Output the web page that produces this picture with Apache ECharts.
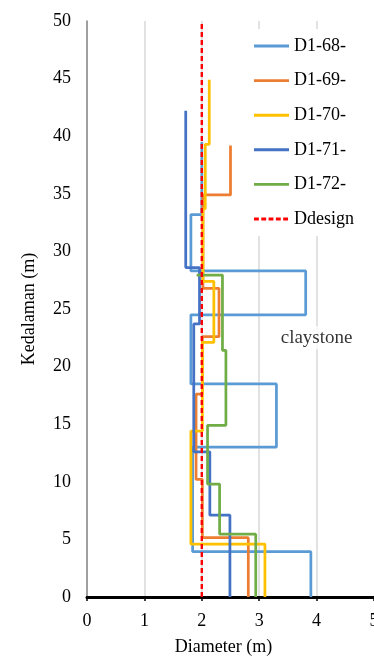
<!DOCTYPE html>
<html>
<head>
<meta charset="utf-8">
<script src="https://cdn.jsdelivr.net/npm/echarts@6/dist/echarts.min.js"></script>
<style>html,body{margin:0;padding:0;background:#fff}#c{width:374px;height:657px}</style>
</head>
<body>
<div id="c"></div>
<script>
// Pile names
const names = ['D1-68-', 'D1-69-', 'D1-70-', 'D1-71-', 'D1-72-'];
// Top depth of each profile (m)
const topDepth = [39.5, 39.2, 44.9, 42.2, 27.95];
// Diameter of each layer, from top down (m)
const diam68 = [2.00, 1.81, 3.81, 1.81, 3.30, 1.84, 3.90];
const diam69 = [2.50, 2.02, 2.30, 2.01, 1.90, 2.01, 2.81];
const diam70 = [2.13, 2.06, 2.02, 2.21, 2.01, 1.81, 3.10];
const diam71 = [1.72, 1.96, 1.86, 2.14, 2.49];
const diam72 = [1.91, 2.36, 2.42, 2.10, 2.31, 2.94];
// Bottom depth of each layer (m)
const bot68 = [33.2, 28.3, 24.5, 18.5, 13.0, 3.93, 0];
const bot69 = [34.9, 26.8, 22.6, 17.6, 10.2, 5.15, 0];
const bot70 = [39.3, 33.7, 27.4, 22.1, 14.4, 4.6, 0];
const bot71 = [28.6, 23.7, 12.6, 7.1, 0];
const bot72 = [27.95, 21.4, 14.9, 9.8, 5.45, 0];
// Design diameter line
const dDesign = 2.0;
const designDepths = [0, 50];
// Annotation
const noteText = 'claystone';
const notePos = [4.0, 22.5];

const colors = ['#5B9BD5', '#ED7D31', '#FFC000', '#4472C4', '#70AD47'];
const diams = [diam68, diam69, diam70, diam71, diam72];
const bots = [bot68, bot69, bot70, bot71, bot72];

function stepPath(top, d, b) {
  const pts = [];
  let t = top;
  for (let i = 0; i < d.length; i++) {
    pts.push([d[i], t]);
    pts.push([d[i], b[i]]);
    t = b[i];
  }
  return pts;
}

const font = 'Liberation Serif, Times New Roman, serif';
const solidIcon = 'path://M0,0H36V3H0Z';
const dashIcon = 'path://M0,0H5V3H0Z M7.5,0H12.5V3H7.5Z M15,0H20V3H15Z M22.5,0H27.5V3H22.5Z M30,0H35V3H30Z M36,0H36V3H36Z';

const series = names.map((n, i) => ({
  name: n, type: 'line', data: stepPath(topDepth[i], diams[i], bots[i]),
  showSymbol: false, symbol: 'none', animation: false,
  lineStyle: { color: colors[i], width: 2.75 }, itemStyle: { color: colors[i] }
}));
series.push({
  name: 'Ddesign', type: 'line', data: designDepths.map(v => [dDesign, v]),
  showSymbol: false, symbol: 'none', animation: false,
  lineStyle: { color: '#FF0000', width: 2.4, type: [5, 3] }, itemStyle: { color: '#FF0000' }
});
series.push({
  type: 'scatter', data: [notePos], symbolSize: 0, silent: true, animation: false,
  label: { show: true, formatter: noteText, position: 'inside', offset: [0, 0], fontFamily: font, fontSize: 19,
    color: '#000', backgroundColor: '#fff', padding: [2, 2] }
});

const chart = echarts.init(document.getElementById('c'));
chart.setOption({
  animation: false,
  grid: { left: 87, right: 0, top: 21, bottom: 60, containLabel: false, outerBoundsMode: 'none' },
  legend: {
    data: names.map(n => ({ name: n, icon: solidIcon })).concat([{ name: 'Ddesign', icon: dashIcon }]),
    orient: 'vertical', left: 250, top: 29,
    backgroundColor: '#fff', padding: [7, 10, 7, 4], itemWidth: 35, itemHeight: 3, itemGap: 14.6,
    textStyle: { fontFamily: font, fontSize: 18, color: '#000', lineHeight: 20 }
  },
  xAxis: [{
    type: 'value', min: 0, max: 5, interval: 1,
    name: 'Diameter (m)', nameLocation: 'middle', nameGap: 41,
    nameTextStyle: { fontFamily: font, fontSize: 18, color: '#000', padding: [0, 14, 0, 0] },
    axisLine: { onZero: false, lineStyle: { color: '#000', width: 3 } },
    axisTick: { show: true, length: 4, lineStyle: { color: '#000', width: 1.5 } },
    axisLabel: { fontFamily: font, fontSize: 18, color: '#000', margin: 15 },
    splitLine: { show: true, showMinLine: false, showMaxLine: false, lineStyle: { color: '#D9D9D9', width: 1.5 } }
  }, {
    type: 'value', position: 'top', min: 0, max: 5, interval: 1,
    axisLine: { show: true, lineStyle: { color: '#000', width: 1.5 } },
    axisTick: { show: false }, axisLabel: { show: false }, splitLine: { show: false }
  }],
  yAxis: {
    type: 'value', min: 0, max: 50, interval: 5,
    name: 'Kedalaman (m)', nameLocation: 'middle', nameGap: 49, nameRotate: 90,
    nameTextStyle: { fontFamily: font, fontSize: 18, color: '#000' },
    axisLine: { show: true, lineStyle: { color: '#808080', width: 1.5 } },
    axisTick: { show: false },
    axisLabel: { fontFamily: font, fontSize: 18, color: '#000', margin: 16 },
    splitLine: { show: false }
  },
  series: series
});
</script>
</body>
</html>
